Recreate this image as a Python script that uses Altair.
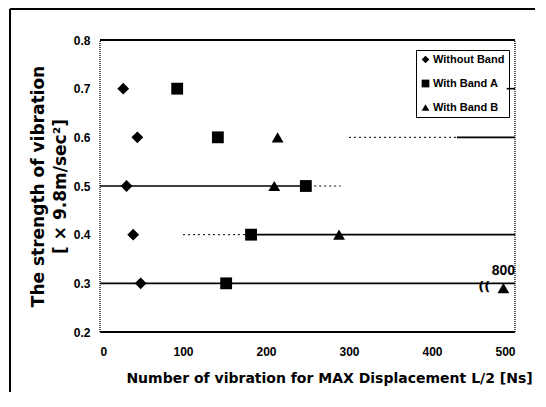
import altair as alt
import pandas as pd

# ---------------- data ----------------
series = ["Without Band", "With Band A", "With Band B"]

without_x = [28, 45, 32, 40, 49]
without_y = [0.7, 0.6, 0.5, 0.4, 0.3]

band_a_x = [93, 142, 248, 182, 152]
band_a_y = [0.7, 0.6, 0.5, 0.4, 0.3]

band_b_x = [214, 210, 288, 486]
band_b_y = [0.6, 0.5, 0.4, 0.29]

outlier_x = [486]
outlier_y = [0.29]
outlier_label = ["800"]

break_x = [463]
break_y = [0.293]
break_label = ["(("]

x_ticks = [0, 100, 200, 300, 400, 500]
y_ticks = [0.2, 0.3, 0.4, 0.5, 0.6, 0.7, 0.8]

# gridline pieces that survive in the scanned figure
grid_y = [0.3, 0.4, 0.4, 0.5, 0.5, 0.6, 0.6, 0.7]
grid_x0 = [0, 100, 175, 0, 252, 300, 430, 490]
grid_x1 = [500, 175, 500, 252, 290, 430, 500, 500]
grid_style = ["solid", "dotted", "solid", "solid", "dotted", "dotted", "solid", "solid"]

# plot frame
edge_x0 = [0, 0]
edge_x1 = [500, 500]
edge_y = [0.2, 0.8]
side_x = [0, 500]

# ---------------- tables ----------------
pts = pd.DataFrame(
    {
        "x": without_x + band_a_x + band_b_x,
        "y": without_y + band_a_y + band_b_y,
        "s": [series[0]] * len(without_x)
        + [series[1]] * len(band_a_x)
        + [series[2]] * len(band_b_x),
    }
)
grid = pd.DataFrame({"y": grid_y, "x0": grid_x0, "x1": grid_x1, "st": grid_style})
edges = pd.DataFrame({"y": edge_y, "x0": edge_x0, "x1": edge_x1})
sides = pd.DataFrame({"x": side_x, "y0": [0.2, 0.2], "y1": [0.8, 0.8]})
outl = pd.DataFrame({"x": outlier_x, "y": outlier_y, "t": outlier_label})
brk = pd.DataFrame({"x": break_x, "y": break_y, "t": break_label})

NARROW = "Liberation Sans, Arial, sans-serif"
WIDE = "DejaVu Sans, Verdana, sans-serif"

xs = alt.Scale(domain=[0, 500], nice=False, zero=False)
ys = alt.Scale(domain=[0.2, 0.8], nice=False, zero=False)

x_axis = alt.Axis(
    values=x_ticks,
    format="d",
    title="Number of vibration for MAX Displacement L/2 [Ns]",
    grid=False,
    domain=False,
    ticks=False,
    tickSize=0,
    labelPadding=14,
    labelFont=NARROW,
    labelFontSize=12,
    labelFontWeight="bold",
    labelColor="black",
    titleFont=WIDE,
    titleFontSize=14,
    titleFontWeight="bold",
    titleColor="black",
    titleX=229,
    titleY=46,
    titleBaseline="middle",
    titleAlign="center",
)
y_axis = alt.Axis(
    values=y_ticks,
    format=".1f",
    title=["The strength of vibration", "[ × 9.8m/sec²]"],
    grid=False,
    domain=False,
    ticks=False,
    tickSize=0,
    labelPadding=10,
    labelFont=NARROW,
    labelFontSize=12,
    labelFontWeight="bold",
    labelColor="black",
    titleFont=WIDE,
    titleFontSize=17,
    titleFontWeight="bold",
    titleColor="black",
    titleLineHeight=22,
    titleX=-62,
    titleY=146,
    titleBaseline="middle",
    titleAlign="center",
    titleAngle=270,
)

grid_solid = (
    alt.Chart(grid)
    .transform_filter(alt.datum.st == "solid")
    .mark_rule(color="black", strokeWidth=1.6)
    .encode(x=alt.X("x0:Q", scale=xs, axis=x_axis), x2="x1:Q", y=alt.Y("y:Q", scale=ys, axis=y_axis))
)
grid_dot = (
    alt.Chart(grid)
    .transform_filter(alt.datum.st == "dotted")
    .mark_rule(color="black", strokeWidth=1, strokeDash=[2, 3])
    .encode(x=alt.X("x0:Q", scale=xs), x2="x1:Q", y=alt.Y("y:Q", scale=ys))
)
edge_rules = (
    alt.Chart(edges)
    .mark_rule(color="black", strokeWidth=2)
    .encode(x=alt.X("x0:Q", scale=xs), x2="x1:Q", y=alt.Y("y:Q", scale=ys))
)
side_rules = (
    alt.Chart(sides)
    .mark_rule(color="black", strokeWidth=1.3, strokeDash=[1, 1])
    .encode(x=alt.X("x:Q", scale=xs), y=alt.Y("y0:Q", scale=ys), y2="y1:Q")
)

points = (
    alt.Chart(pts)
    .mark_point(filled=True, opacity=1, size=140, color="black")
    .encode(
        x=alt.X("x:Q", scale=xs),
        y=alt.Y("y:Q", scale=ys),
        shape=alt.Shape(
            "s:N",
            scale=alt.Scale(domain=series, range=["diamond", "square", "triangle-up"]),
            legend=alt.Legend(
                title=None,
                orient="none",
                legendX=316,
                legendY=10,
                strokeColor="black",
                padding=4,
                rowPadding=12,
                symbolSize=60,
                symbolFillColor="black",
                symbolStrokeColor="black",
                symbolStrokeWidth=0,
                labelFont=NARROW,
                labelFontSize=11,
                labelFontWeight="bold",
                labelColor="black",
                labelOffset=2,
                labelLimit=90,
            ),
        ),
    )
)

outlier_text = (
    alt.Chart(outl)
    .mark_text(font=NARROW, fontSize=14, fontWeight="bold", color="black", dy=-17)
    .encode(x=alt.X("x:Q", scale=xs), y=alt.Y("y:Q", scale=ys), text="t:N")
)
break_text = (
    alt.Chart(brk)
    .mark_text(font=WIDE, fontSize=13, fontWeight="bold", color="black")
    .encode(x=alt.X("x:Q", scale=xs), y=alt.Y("y:Q", scale=ys), text="t:N")
)

# outer page frame (decoration)
frame_top = alt.Chart(pd.DataFrame({"k": [0]})).mark_rule(color="black", strokeWidth=2).encode(
    x=alt.value(-90), x2=alt.value(440), y=alt.value(-31)
)
frame_left = alt.Chart(pd.DataFrame({"k": [0]})).mark_rule(color="black", strokeWidth=2).encode(
    x=alt.value(-90), y=alt.value(-31), y2=alt.value(360)
)

chart = (
    alt.layer(
        grid_solid, grid_dot, edge_rules, side_rules, points, outlier_text, break_text, frame_top, frame_left
    )
    .properties(
        width=415,
        height=292,
        autosize="none",
        padding={"left": 92, "top": 32, "right": 20, "bottom": 60},
        background="white",
    )
    .configure_view(stroke=None)
)

chart.save("out.html", embed_options={"renderer": "svg", "actions": False})
